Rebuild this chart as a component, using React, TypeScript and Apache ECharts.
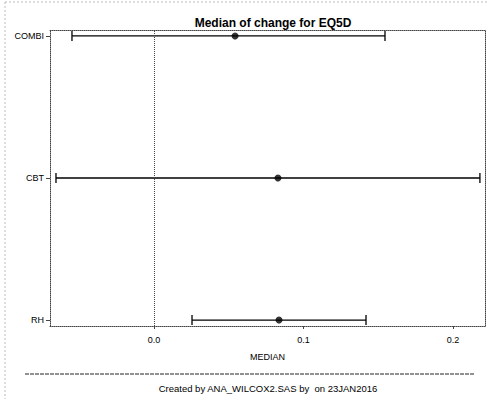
import React, { useEffect, useRef } from "react";
import * as echarts from "echarts";

const categories = ["RH", "CBT", "COMBI"];
const lowValues = [0.0254, -0.0656, -0.0549];
const medianValues = [0.0836, 0.0829, 0.0542];
const highValues = [0.1418, 0.218, 0.1545];
const xTickValues = [0, 0.1, 0.2];
const titleText = "Median of change for EQ5D";
const xAxisTitle = "MEDIAN";
const footnote = "Created by ANA_WILCOX2.SAS by  on 23JAN2016";

const FONT = "'Liberation Sans', Arial, sans-serif";

export default function App() {
  const ref = useRef<HTMLDivElement>(null);
  useEffect(() => {
    if (!ref.current) return;
    const chart = echarts.init(ref.current, null, { renderer: "svg" });
    const errData = categories.map((_, i) => [lowValues[i], highValues[i], i]);
    const medData = categories.map((_, i) => [medianValues[i], i]);
    const dotted = { color: "#444", type: "dotted" as const, width: 1 };
    chart.setOption({
      animation: false,
      backgroundColor: "#fff",
      title: {
        text: titleText,
        left: 268,
        textAlign: "center",
        top: 12,
        textStyle: { fontFamily: FONT, fontSize: 12, fontWeight: "bold", color: "#000" },
      },
      grid: { left: 50, right: 4, top: 30, bottom: 73 },
      xAxis: [
        {
          type: "value",
          min: -0.0696,
          max: 0.2214,
          splitLine: { show: false },
          axisLine: { show: true, onZero: false, lineStyle: dotted },
          axisTick: { show: true, length: 3, customValues: xTickValues, lineStyle: { color: "#444" } },
          axisLabel: {
            customValues: xTickValues,
            formatter: (v: number) => v.toFixed(1),
            fontFamily: FONT,
            fontSize: 9,
            color: "#000",
            margin: 9,
          },
          name: xAxisTitle,
          nameLocation: "middle",
          nameGap: 26,
          nameTextStyle: { fontFamily: FONT, fontSize: 9, color: "#000" },
        },
        {
          type: "value",
          position: "top",
          min: -0.0696,
          max: 0.2214,
          splitLine: { show: false },
          axisLine: { show: true, onZero: false, lineStyle: dotted },
          axisTick: { show: false },
          axisLabel: { show: false },
        },
      ],
      yAxis: [
        {
          type: "value",
          min: -0.042,
          max: 2.042,
          splitLine: { show: false },
          axisLine: { show: true, onZero: false, lineStyle: dotted },
          axisTick: { show: true, length: 4, customValues: [0, 1, 2], lineStyle: { color: "#444" } },
          axisLabel: {
            customValues: [0, 1, 2],
            formatter: (v: number) => categories[Math.round(v)] ?? "",
            fontFamily: FONT,
            fontSize: 9,
            color: "#000",
            margin: 6,
          },
        },
        {
          type: "value",
          position: "right",
          min: -0.042,
          max: 2.042,
          splitLine: { show: false },
          axisLine: { show: true, onZero: false, lineStyle: dotted },
          axisTick: { show: false },
          axisLabel: { show: false },
        },
      ],
      series: [
        {
          type: "custom",
          data: errData,
          encode: { x: [0, 1], y: 2 },
          renderItem: (params: any, api: any) => {
            const lo = api.coord([api.value(0), api.value(2)]);
            const hi = api.coord([api.value(1), api.value(2)]);
            const h = 5;
            const st = { stroke: "#000", lineWidth: 1.3 };
            return {
              type: "group",
              children: [
                { type: "line", shape: { x1: lo[0], y1: lo[1], x2: hi[0], y2: hi[1] }, style: st },
                { type: "line", shape: { x1: lo[0], y1: lo[1] - h, x2: lo[0], y2: lo[1] + h }, style: st },
                { type: "line", shape: { x1: hi[0], y1: hi[1] - h, x2: hi[0], y2: hi[1] + h }, style: st },
              ],
            };
          },
          z: 3,
        },
        {
          type: "scatter",
          data: medData,
          symbol: "circle",
          symbolSize: 7,
          itemStyle: { color: "#000" },
          z: 4,
          markLine: {
            silent: true,
            symbol: "none",
            label: { show: false },
            lineStyle: { color: "#444", type: "dotted", width: 1 },
            data: [{ xAxis: 0 }],
          },
        },
      ],
      graphic: [
        {
          type: "line",
          shape: { x1: 25, y1: 374, x2: 475, y2: 374 },
          style: { stroke: "#222", lineWidth: 1, lineDash: [4, 1] },
        },
        {
          type: "text",
          x: 268,
          y: 388,
          style: {
            text: footnote,
            fontFamily: FONT,
            fontSize: 9.5,
            fill: "#000",
            align: "center",
            verticalAlign: "middle",
          },
        },
        {
          type: "line",
          shape: { x1: 5, y1: 2, x2: 489, y2: 2 },
          style: { stroke: "#bbb", lineWidth: 1, lineDash: [2, 2] },
        },
        {
          type: "line",
          shape: { x1: 5, y1: 2, x2: 5, y2: 399 },
          style: { stroke: "#bbb", lineWidth: 1, lineDash: [2, 2] },
        },
      ],
    });
    return () => chart.dispose();
  }, []);
  return (
    <div
      ref={ref}
      style={{ position: "fixed", left: 0, top: 0, width: 489, height: 399 }}
    />
  );
}
